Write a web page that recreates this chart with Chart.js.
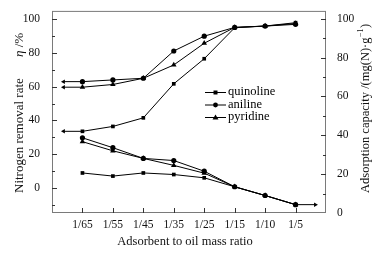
<!DOCTYPE html>
<html>
<head>
<meta charset="utf-8">
<script src="https://cdn.jsdelivr.net/npm/chart.js@4.4.0/dist/chart.umd.min.js"></script>
<style>
  html, body { margin: 0; padding: 0; background: #fff; }
  #wrap { width: 385px; height: 253px; }
</style>
</head>
<body>
<div id="wrap"><canvas id="myChart"></canvas></div>
<script>
// data ===================================
var ratios = ['1/65', '1/55', '1/45', '1/35', '1/25', '1/15', '1/10', '1/5'];

// nitrogen removal rate, % (left axis)
var removalQuinoline = [33.5, 36.4, 41.5, 61.7, 76.6, 95, 96, 98];
var removalAniline = [63, 64, 65, 81.2, 90, 95.2, 96, 97];
var removalPyridine = [59.7, 61.3, 65, 72.9, 85.8, 95.2, 96, 97.5];

// adsorption capacity, mg(N)/g (right axis)
var capQuinoline = [20.6, 19, 20.6, 19.8, 18.1, 13.5, 9, 4.3];
var capAniline = [38.7, 33.6, 28.1, 27, 21.5, 13.5, 9, 4.3];
var capPyridine = [36.7, 32, 28.1, 24.5, 20.5, 13.5, 9, 4.3];

var leftTicks = [0, 20, 40, 60, 80, 100];
var rightTicks = [0, 20, 40, 60, 80, 100];

var seriesNames = ['quinoline', 'aniline', 'pyridine'];
var seriesMarks = ['rect', 'circle', 'triangle'];

var FONT = '"Liberation Serif", "Times New Roman", serif';

function pts(arr) {
  return arr.map(function (v, i) { return { x: i + 1, y: v }; });
}

function series(arr, style, axis) {
  return {
    data: pts(arr),
    yAxisID: axis,
    borderColor: '#000',
    backgroundColor: '#000',
    borderWidth: 1,
    pointStyle: style,
    pointRadius: style === 'triangle' ? 3.2 : 2.6,
    pointBorderWidth: 0,
    tension: 0
  };
}

// arrows showing which axis a group belongs to
function arrow(yval, fromX, toX, axis, rot) {
  return {
    data: [{ x: fromX, y: yval }, { x: toX, y: yval }],
    yAxisID: axis,
    borderColor: '#000',
    backgroundColor: '#000',
    borderWidth: 1,
    pointStyle: 'triangle',
    pointRadius: [0, 2.6],
    rotation: [0, rot],
    pointBorderWidth: 0
  };
}

var datasets = [
  series(removalQuinoline, 'rect', 'y'),
  series(removalAniline, 'circle', 'y'),
  series(removalPyridine, 'triangle', 'y'),
  series(capQuinoline, 'rect', 'y1'),
  series(capAniline, 'circle', 'y1'),
  series(capPyridine, 'triangle', 'y1'),
  arrow(removalAniline[0], 1, 0.38, 'y', -90),
  arrow(removalPyridine[0], 1, 0.38, 'y', -90),
  arrow(removalQuinoline[0], 1, 0.38, 'y', -90),
  arrow(capQuinoline[7], 8, 8.65, 'y1', 90)
];

function drawMark(ctx, style, x, y) {
  ctx.beginPath();
  if (style === 'rect') {
    ctx.rect(x - 2, y - 2, 4, 4);
  } else if (style === 'circle') {
    ctx.arc(x, y, 2.4, 0, Math.PI * 2);
  } else {
    ctx.moveTo(x, y - 3);
    ctx.lineTo(x + 3, y + 2);
    ctx.lineTo(x - 3, y + 2);
    ctx.closePath();
  }
  ctx.fill();
}

// frame, inward ticks, titles, legend
var decor = {
  id: 'decor',
  afterDraw: function (chart) {
    var ctx = chart.ctx;
    var a = chart.chartArea;
    var sx = chart.scales.x, sy = chart.scales.y, sy1 = chart.scales.y1;
    ctx.save();
    ctx.strokeStyle = '#7a7a7a';
    ctx.lineWidth = 1;
    ctx.strokeRect(a.left + 0.5, a.top + 0.5, a.right - a.left - 1, a.bottom - a.top - 1);

    ctx.strokeStyle = '#333';
    ctx.beginPath();
    for (var v = -10; v <= 100; v += 10) {
      var py = Math.round(sy.getPixelForValue(v)) + 0.5;
      var len = (v % 20 === 0) ? 5 : 3;
      ctx.moveTo(a.left, py); ctx.lineTo(a.left + len, py);
    }
    for (var w = 10; w <= 100; w += 10) {
      var py1 = Math.round(sy1.getPixelForValue(w)) + 0.5;
      var len1 = (w % 20 === 0) ? 5 : 3;
      ctx.moveTo(a.right, py1); ctx.lineTo(a.right - len1, py1);
    }
    for (var i = 1; i <= ratios.length; i++) {
      var px = Math.round(sx.getPixelForValue(i)) + 0.5;
      ctx.moveTo(px, a.bottom); ctx.lineTo(px, a.bottom - 5);
    }
    ctx.stroke();

    ctx.fillStyle = '#111';
    // x title
    ctx.font = '12.5px ' + FONT;
    ctx.textAlign = 'center';
    ctx.textBaseline = 'middle';
    ctx.fillText('Adsorbent to oil mass ratio', (a.left + a.right) / 2 - 4, a.bottom + 29);

    // left title
    ctx.save();
    ctx.translate(20, a.bottom - 20);
    ctx.rotate(-Math.PI / 2);
    ctx.textAlign = 'left';
    ctx.font = '13px ' + FONT;
    ctx.fillText('Nitrogen removal rate', 0, 0);
    ctx.font = 'italic 13px ' + FONT;
    ctx.fillText('η', 136, 0);
    var ew = ctx.measureText('η').width;
    ctx.font = '13px ' + FONT;
    ctx.fillText(' /%', 136 + ew, 0);
    ctx.restore();

    // right title
    ctx.save();
    ctx.translate(366, a.bottom - 20);
    ctx.rotate(-Math.PI / 2);
    ctx.textAlign = 'left';
    ctx.font = '12.5px ' + FONT;
    var t1 = 'Adsorption capacity /(mg(N)\u00b7g';
    ctx.fillText(t1, 0, 0);
    var x1 = ctx.measureText(t1).width;
    ctx.font = '8px ' + FONT;
    ctx.fillText('\u22121', x1 + 0.5, -5);
    var x2 = x1 + 0.5 + ctx.measureText('\u22121').width;
    ctx.font = '12.5px ' + FONT;
    ctx.fillText(')', x2 + 0.5, 0);
    ctx.restore();

    // legend
    ctx.font = '12.5px ' + FONT;
    ctx.textAlign = 'left';
    ctx.strokeStyle = '#000';
    ctx.fillStyle = '#000';
    for (var k = 0; k < seriesNames.length; k++) {
      var ly = 92 + k * 12.5;
      ctx.beginPath();
      ctx.moveTo(205, ly + 0.5); ctx.lineTo(226, ly + 0.5);
      ctx.stroke();
      drawMark(ctx, seriesMarks[k], 215.5, ly + 0.5);
      ctx.fillText(seriesNames[k], 228, ly);
    }
    ctx.restore();
  }
};

var config = {
  type: 'line',
  data: { datasets: datasets },
  options: {
    responsive: true,
    maintainAspectRatio: false,
    animation: false,
    layout: { padding: { top: 5, left: 0, right: 0, bottom: 0 } },
    plugins: { legend: { display: false }, tooltip: { enabled: false } },
    scales: {
      x: {
        type: 'linear',
        min: 0,
        max: 9,
        grid: { display: false },
        border: { display: false },
        afterBuildTicks: function (s) {
          s.ticks = ratios.map(function (r, i) { return { value: i + 1 }; });
        },
        afterFit: function (s) { s.height = 40; },
        ticks: {
          autoSkip: false,
          maxRotation: 0,
          padding: -3,
          color: '#111',
          font: { family: FONT, size: 11.5 },
          callback: function (v) { return ratios[v - 1]; }
        }
      },
      y: {
        position: 'left',
        min: -15,
        max: 105,
        grid: { display: false },
        border: { display: false },
        afterBuildTicks: function (s) {
          s.ticks = leftTicks.map(function (v) { return { value: v }; });
        },
        afterFit: function (s) { s.width = 52; },
        ticks: { padding: 4, color: '#111', font: { family: FONT, size: 11.5 } }
      },
      y1: {
        position: 'right',
        min: 0,
        max: 104,
        grid: { display: false },
        border: { display: false },
        afterBuildTicks: function (s) {
          s.ticks = rightTicks.map(function (v) { return { value: v }; });
        },
        afterFit: function (s) { s.width = 59; },
        ticks: { padding: 3, color: '#111', font: { family: FONT, size: 11.5 } }
      }
    }
  },
  plugins: [decor]
};

var myChart = new Chart(document.getElementById('myChart'), config);
</script>
</body>
</html>
